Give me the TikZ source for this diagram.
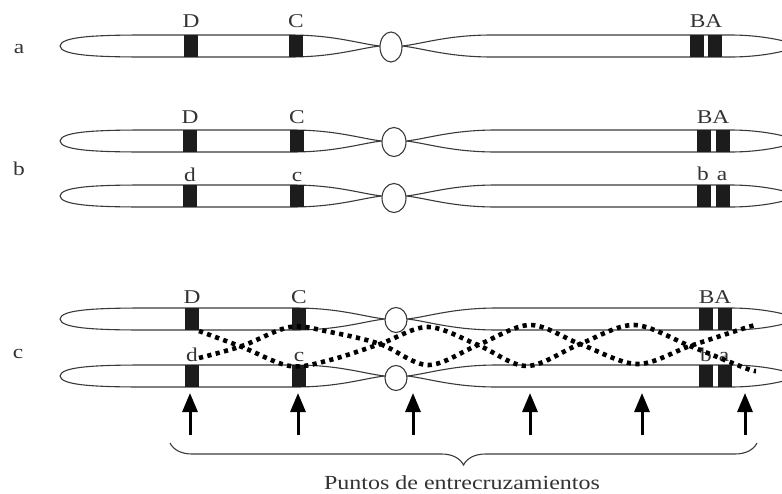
\documentclass[tikz,border=0pt]{standalone}
\usepackage{fontspec}
\setmainfont{Liberation Serif}[FakeStretch=1.2]
\usetikzlibrary{arrows.meta,decorations.pathreplacing}

\definecolor{inkgray}{HTML}{3A3A3A}
\definecolor{textgray}{HTML}{333333}
\definecolor{bandblack}{HTML}{1C1C1C}

% left arm: rounded outer tip at #1, tapered end at the centromere (#2)
\newcommand{\armleft}[4]{%
  \draw[armline] (#1,#3)
    .. controls (#1+1,#3-0.8*#4) and (#1+30,#3-#4) .. (#1+85,#3-#4)
    -- (#2-90,#3-#4)
    .. controls (#2-45,#3-#4) and (#2-20,#3-2) .. (#2,#3)
    .. controls (#2-20,#3+2) and (#2-45,#3+#4) .. (#2-90,#3+#4)
    -- (#1+85,#3+#4)
    .. controls (#1+30,#3+#4) and (#1+1,#3+0.8*#4) .. (#1,#3) -- cycle;}
% right arm: tapered at the centromere (#1), narrowing towards #2
\newcommand{\armright}[4]{%
  \draw[armline] (#1,#3)
    .. controls (#1+20,#3-2) and (#1+45,#3-#4) .. (#1+90,#3-#4)
    -- (#2-70,#3-#4)
    .. controls (#2-35,#3-#4) and (#2-10,#3-4) .. (#2,#3)
    .. controls (#2-10,#3+4) and (#2-35,#3+#4) .. (#2-70,#3+#4)
    -- (#1+90,#3+#4)
    .. controls (#1+45,#3+#4) and (#1+20,#3+2) .. (#1,#3) -- cycle;}
% black band of width 14 across an arm
\newcommand{\band}[3]{\fill[bandblack] (#1,#2-#3) rectangle (#1+14,#2+#3);}
% centromere
\newcommand{\centro}[4]{\draw[armline,fill=white] (#1,#2) ellipse [x radius=#3, y radius=#4];}
% one complete chromosome: centre y, centromere x, its radii, band positions D C B A
\newcommand{\chromosome}[9]{%
  \armleft{60}{#2-#3}{#1}{11}
  \armright{#2+#3}{800}{#1}{11}
  \band{#5}{#1}{11}\band{#6}{#1}{11}\band{#7}{#1}{11}\band{#8}{#1}{11}
  \centro{#2}{#1+#9}{#3}{#4}}

\tikzset{
  armline/.style={draw=inkgray, line width=1.1pt},
  lab/.style={anchor=base, inner sep=0pt, text=textgray, font=\fontsize{19.5}{22}\selectfont},
  dotline/.style={draw=black, line width=4.6pt, dash pattern=on 4.2pt off 4.4pt},
  uparrow/.style={draw=black, line width=3pt, -{Triangle[width=15pt,length=19pt]}},
  bracestyle/.style={draw=inkgray, line width=1.1pt, decorate,
    decoration={brace, mirror, amplitude=22pt}}
}

\begin{document}
\begin{tikzpicture}[x=1pt, y=-1pt]
\useasboundingbox (0,0) rectangle (782,493);

% ---- a: one chromosome ----
\chromosome{46}{391}{11}{15}{184}{289}{690}{708}{1}
\node[lab] (la) at (19,53) {a};
\node[lab] (aD) at (191,27) {D};
\node[lab] (aC) at (296,27) {C};
\node[lab] (aBA) at (706,27) {BA};

% ---- b: homologous pair ----
\chromosome{141}{394}{12}{14.5}{183}{290}{697}{716}{1}
\chromosome{196}{394}{12}{14.5}{183}{290}{697}{716}{2}
\node[lab] (lb) at (19,175) {b};
\node[lab] (bD) at (190,123) {D};
\node[lab] (bC) at (297,123) {C};
\node[lab] (bBA) at (713,123) {BA};
\node[lab] (bd) at (190,181) {d};
\node[lab] (bc) at (297,181) {c};
\node[lab] (bb) at (703,180) {b};
\node[lab] (ba) at (722,180) {a};

% ---- c: pair with crossovers ----
\chromosome{319}{396}{11}{12.5}{185}{292}{699}{718}{1}
\chromosome{376}{396}{11}{12.5}{185}{292}{699}{718}{2}
\node[lab] (lc) at (18,358) {c};
\node[lab] (cD) at (192,303) {D};
\node[lab] (cC) at (299,303) {C};
\node[lab] (cBA) at (715,303) {BA};
\node[lab] (cd) at (192,361) {d};
\node[lab] (cc) at (299,361) {c};
\node[lab] (cb) at (706,361) {b};
\node[lab] (ca) at (724,361) {a};

% the two exchanging strands
\draw[dotline] plot[smooth, tension=0.55] coordinates
  {(199,331) (242,347) (290,366) (330,360) (380,344) (428,327) (478,345)
   (527,366) (580,344) (634,325) (690,346) (745,368) (756,371)};
\draw[dotline] plot[smooth, tension=0.55] coordinates
  {(199,358) (242,346) (290,327) (330,332) (380,344) (428,365) (478,345)
   (530,325) (580,344) (637,364) (690,346) (745,328) (756,325)};

% crossover points
\foreach \i/\x in {1/190, 2/298, 3/413, 4/530, 5/642, 6/745} {
  \coordinate (tail\i) at (\x,435);
  \coordinate (tip\i) at (\x,393);
  \draw[uparrow] (tail\i) -- (tip\i);
}

\coordinate (braceL) at (170,443);
\coordinate (braceR) at (757,443);
\draw[bracestyle] (braceL) -- (braceR);
\node[lab, font=\fontsize{20}{22}\selectfont] (puntos) at (462,489) {Puntos de entrecruzamientos};
\end{tikzpicture}
\end{document}
